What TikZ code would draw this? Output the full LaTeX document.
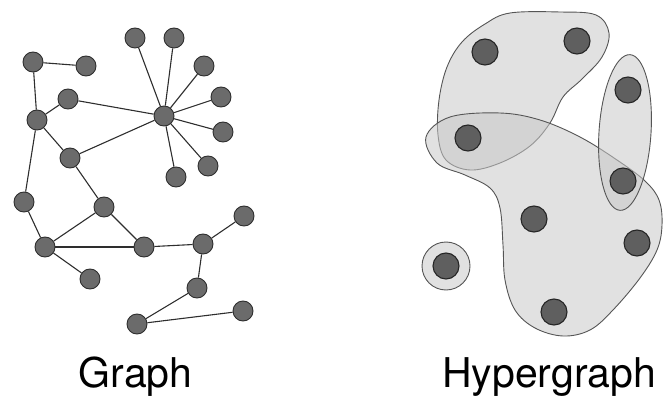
\documentclass[tikz,border=0pt]{standalone}
\usepackage{fontspec}
\setmainfont{TeX Gyre Heros}
\definecolor{gnode}{HTML}{6B6B6B}
\definecolor{gline}{HTML}{2E2E2E}
\definecolor{hnode}{HTML}{5F5F5F}
\definecolor{hfill}{RGB}{200,200,200}
\definecolor{hline}{HTML}{555555}
\begin{document}
\begin{tikzpicture}[x=1pt,y=-1pt,
  gv/.style={circle,fill=gnode,draw=gline,line width=0.9pt,minimum size=20pt,inner sep=0pt},
  ge/.style={draw=gline,line width=1.1pt},
  hv/.style={circle,fill=hnode,draw=black!85,line width=1.1pt,minimum size=26pt,inner sep=0pt},
  hedge/.style={fill=hfill,fill opacity=0.55,draw=hline,line width=0.9pt},
  lbl/.style={font=\fontsize{41}{48}\selectfont,anchor=base,inner sep=0pt}]
\useasboundingbox (0,0) rectangle (663,398);

% ---------------- Graph ----------------
\node[gv] (a1) at (135,38) {};
\node[gv] (a2) at (174,38) {};
\node[gv] (a3) at (33,62) {};
\node[gv] (a4) at (86,66) {};
\node[gv] (a5) at (204,66) {};
\node[gv] (a6) at (68,99) {};
\node[gv] (a7) at (221,97) {};
\node[gv] (hub) at (164,116) {};
\node[gv] (a8) at (37,120) {};
\node[gv] (a9) at (223,132) {};
\node[gv] (a10) at (70,158) {};
\node[gv] (a11) at (208,166) {};
\node[gv] (a12) at (176,177) {};
\node[gv] (a13) at (24,202) {};
\node[gv] (a14) at (104,207) {};
\node[gv] (a15) at (244,216) {};
\node[gv] (a16) at (45,247) {};
\node[gv] (a17) at (144,247) {};
\node[gv] (a18) at (203,244) {};
\node[gv] (a19) at (90,279) {};
\node[gv] (a20) at (197,288) {};
\node[gv] (a21) at (243,311) {};
\node[gv] (a22) at (137,324) {};

\draw[ge] (a3) -- (a4);
\draw[ge] (a3) -- (a8);
\draw[ge] (a8) -- (a6);
\draw[ge] (a6) -- (hub);
\draw[ge] (a8) -- (a10);
\draw[ge] (a10) -- (hub);
\draw[ge] (a1) -- (hub);
\draw[ge] (a2) -- (hub);
\draw[ge] (a5) -- (hub);
\draw[ge] (a7) -- (hub);
\draw[ge] (a9) -- (hub);
\draw[ge] (a11) -- (hub);
\draw[ge] (a12) -- (hub);
\draw[ge] (a8) -- (a13);
\draw[ge] (a10) -- (a14);
\draw[ge] (a13) -- (a16);
\draw[ge] (a16) -- (a14);
\draw[ge] (a16) -- (a17);
\draw[ge] (a14) -- (a17);
\draw[ge] (a16) -- (a19);
\draw[ge] (a17) -- (a18);
\draw[ge] (a18) -- (a15);
\draw[ge] (a18) -- (a20);
\draw[ge] (a20) -- (a22);
\draw[ge] (a22) -- (a21);

\node[lbl] (glabel) at (135.5,387) {Graph};

% ---------------- Hypergraph ----------------
\draw[hedge] plot[smooth cycle, tension=0.6] coordinates {
  (510,13) (560,12) (596,15) (609,33) (602,57) (582,79) (563,97)
  (550,123) (530,146) (500,163) (470,170) (446,160) (438,135)
  (439,100) (447,67) (462,42) (485,24)};
\draw[hedge] plot[smooth cycle, tension=0.6] coordinates {
  (426,137) (450,117) (500,113) (540,120) (580,137) (617,160)
  (645,181) (659,200) (662,225) (657,250) (640,278) (613,310)
  (590,330) (563,336) (535,328) (515,310) (505,280) (503,245)
  (500,208) (490,188) (465,175) (437,163)};
\draw[hedge, rotate around={-3.7:(625,132.5)}] (625,132.5) ellipse [x radius=26, y radius=78];
\draw[hedge] (446,266) circle [radius=24];

\node[hv] (h1) at (485,52) {};
\node[hv] (h2) at (577,41) {};
\node[hv] (h3) at (628,90) {};
\node[hv] (h4) at (468,138) {};
\node[hv] (h5) at (623,181) {};
\node[hv] (h6) at (534,219) {};
\node[hv] (h7) at (637,243) {};
\node[hv] (h8) at (446,266) {};
\node[hv] (h9) at (554,312) {};

\node[lbl] (hlabel) at (549,387) {Hypergraph};
\end{tikzpicture}
\end{document}
